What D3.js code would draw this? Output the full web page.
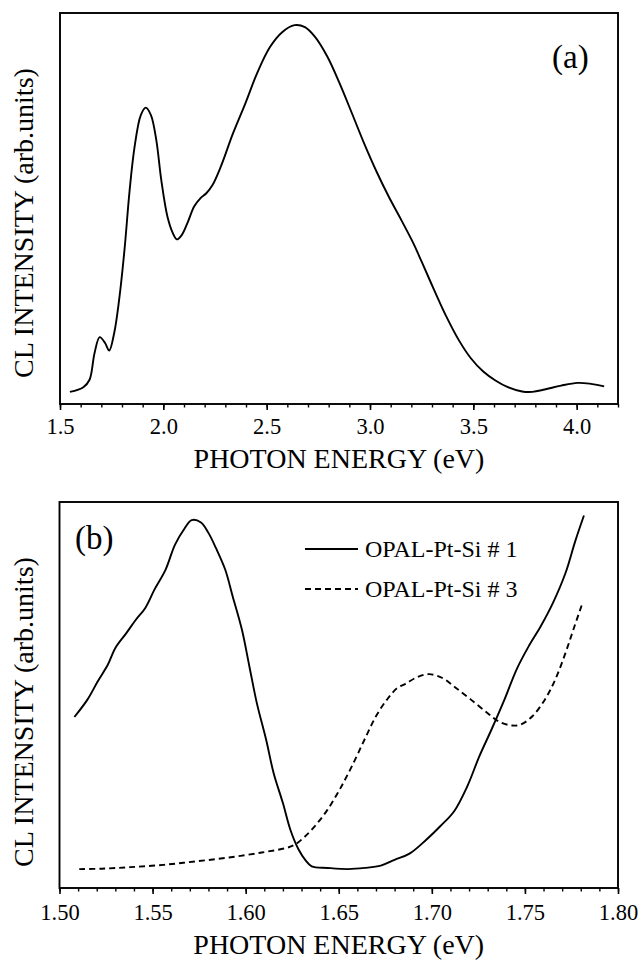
<!DOCTYPE html>
<html>
<head>
<meta charset="utf-8">
<script src="https://cdn.jsdelivr.net/npm/d3@7"></script>
<style>
  body { margin: 0; background: #fff; }
  svg text { font-family: "Liberation Serif", "Times New Roman", serif; fill: #000; }
</style>
</head>
<body>
<svg id="chart" width="642" height="964"></svg>
<script>
// panel (a): CL spectrum, wide range
const energyA = [1.548,1.613,1.643,1.667,1.692,1.718,1.738,1.762,1.786,1.812,1.837,1.861,1.891,1.915,1.940,1.966,1.990,2.020,2.046,2.065,2.089,2.119,2.149,2.179,2.208,2.238,2.278,2.337,2.397,2.456,2.516,2.575,2.635,2.685,2.734,2.794,2.853,2.913,2.972,3.032,3.091,3.151,3.210,3.250,3.310,3.369,3.429,3.488,3.548,3.607,3.667,3.736,3.786,3.845,3.925,4.004,4.063,4.133]
const intensityA = [3.1,4.3,6.2,13.0,17.1,15.6,13.7,18.1,26.6,39.4,54.7,65.8,73.9,75.8,73.9,67.5,57.3,47.9,43.7,42.1,43.2,46.6,50.5,52.6,53.9,56.0,60.7,69.2,76.9,84.9,91.3,95.1,96.9,96.4,93.9,88.8,82.0,74.3,66.6,59.4,53.0,47.1,41.1,36.4,29.2,22.4,16.4,11.7,8.3,6.0,4.3,3.2,3.1,3.7,4.7,5.4,5.2,4.5]

// panel (b): OPAL-Pt-Si #1 (solid)
const energyB1 = [1.508,1.515,1.5205,1.526,1.530,1.536,1.541,1.546,1.551,1.557,1.562,1.567,1.571,1.576,1.580,1.584,1.589,1.593,1.598,1.602,1.606,1.611,1.615,1.620,1.624,1.6285,1.632,1.6355,1.644,1.655,1.664,1.6726,1.680,1.688,1.697,1.7045,1.712,1.719,1.7255,1.732,1.739,1.7455,1.752,1.7585,1.765,1.7718,1.777,1.7817]
const intensityB1 = [44.3,48.8,53.5,57.9,62.2,66.1,69.5,72.5,77.3,82.5,88.9,93.0,95.3,94.7,92.0,88.1,82.5,75.6,66.9,57.4,47.9,38.4,29.8,22.0,15.1,9.9,7.3,5.6,5.2,4.9,5.2,5.8,7.3,8.9,12.5,16.0,19.9,26.3,34.1,41.0,48.8,56.6,62.6,67.8,73.8,81.6,89.8,96.5]

// panel (b): OPAL-Pt-Si #3 (dashed)
const energyB3 = [1.5106,1.5227,1.538,1.5558,1.5734,1.591,1.6087,1.622,1.6263,1.632,1.6385,1.644,1.6505,1.657,1.6638,1.670,1.6759,1.6814,1.6858,1.6924,1.6986,1.7057,1.7123,1.721,1.730,1.7365,1.7431,1.7476,1.754,1.7607,1.7663,1.7718,1.776,1.7806]
const intensityB3 = [4.9,5.0,5.4,6.0,6.9,7.9,9.2,10.4,11.2,13.4,16.8,20.3,25.5,31.5,38.4,44.5,48.8,51.8,52.9,54.7,55.4,54.4,52.1,48.8,45.3,43.0,42.1,42.3,44.5,48.8,54.0,60.9,66.9,73.4]

const majorTicksA = [1.5, 2.0, 2.5, 3.0, 3.5, 4.0]
const majorTicksB = [1.50, 1.55, 1.60, 1.65, 1.70, 1.75, 1.80]
const legendLabels = ["OPAL-Pt-Si # 1", "OPAL-Pt-Si # 3"]

const svg = d3.select("#chart")

function drawPanel(p) {
  const x = d3.scaleLinear().domain(p.domain).range([p.left, p.right])
  const y = d3.scaleLinear().domain([0, 100]).range([p.bottom, p.top])
  const g = svg.append("g")

  // minor ticks
  g.append("g")
    .attr("transform", "translate(0," + p.bottom + ")")
    .call(d3.axisBottom(x).tickValues(p.minor).tickSize(3.5).tickFormat(""))
    .call(a => a.select(".domain").remove())
    .call(a => a.selectAll("line").attr("stroke-width", 1.4))

  // major ticks + labels
  g.append("g")
    .attr("transform", "translate(0," + p.bottom + ")")
    .call(d3.axisBottom(x).tickValues(p.major).tickSize(6).tickFormat(d3.format(p.fmt)))
    .call(a => a.select(".domain").remove())
    .call(a => a.selectAll("line").attr("stroke-width", 1.6))
    .call(a => a.selectAll("text")
      .attr("y", p.labelY).attr("dy", null)
      .attr("font-size", 22.5).attr("font-family", null))

  g.append("rect")
    .attr("x", p.left).attr("y", p.top)
    .attr("width", p.right - p.left).attr("height", p.bottom - p.top)
    .attr("fill", "none").attr("stroke", "#000").attr("stroke-width", 1.9)

  const line = d3.line()
    .x(d => x(d[0]))
    .y(d => y(d[1]))
    .curve(d3.curveCatmullRom.alpha(0.5))

  p.series.forEach(s => {
    g.append("path")
      .datum(d3.zip(s.energy, s.intensity))
      .attr("d", line)
      .attr("fill", "none")
      .attr("stroke", "#000")
      .attr("stroke-width", 1.9)
      .attr("stroke-dasharray", s.dash)
  })

  g.append("text")
    .attr("x", (p.left + p.right) / 2)
    .attr("y", p.bottom + p.titleY)
    .attr("text-anchor", "middle")
    .attr("font-size", 28)
    .text("PHOTON ENERGY (eV)")

  g.append("text")
    .attr("transform", "translate(33," + p.ylabelY + ") rotate(-90)")
    .attr("text-anchor", "middle")
    .attr("font-size", 28)
    .text("CL INTENSITY (arb.units)")

  g.append("text")
    .attr("x", p.tagX).attr("y", p.tagY)
    .attr("font-size", 33)
    .text(p.tag)

  return { x, y }
}

drawPanel({
  left: 60, right: 618, top: 13, bottom: 404,
  domain: [1.5, 4.2],
  major: majorTicksA,
  minor: d3.range(15, 43).map(d => d / 10),
  fmt: ".1f", labelY: 30, titleY: 64, ylabelY: 223,
  tag: "(a)", tagX: 552, tagY: 68,
  series: [{ energy: energyA, intensity: intensityA, dash: null }]
})

drawPanel({
  left: 59.5, right: 618, top: 502, bottom: 888,
  domain: [1.5, 1.8],
  major: majorTicksB,
  minor: d3.range(150, 181).map(d => d / 100),
  fmt: ".2f", labelY: 32, titleY: 66, ylabelY: 712,
  tag: "(b)", tagX: 75, tagY: 549,
  series: [
    { energy: energyB1, intensity: intensityB1, dash: null },
    { energy: energyB3, intensity: intensityB3, dash: "6,4" }
  ]
})

// legend for panel (b)
const legend = svg.append("g")
legendLabels.forEach((label, i) => {
  const ly = 549 + i * 40
  legend.append("line")
    .attr("x1", 305).attr("x2", 358)
    .attr("y1", ly).attr("y2", ly)
    .attr("stroke", "#000").attr("stroke-width", 1.8)
    .attr("stroke-dasharray", i == 1 ? "6,4" : null)
  legend.append("text")
    .attr("x", 365).attr("y", ly + 8)
    .attr("font-size", 24)
    .text(label)
})
</script>
</body>
</html>
